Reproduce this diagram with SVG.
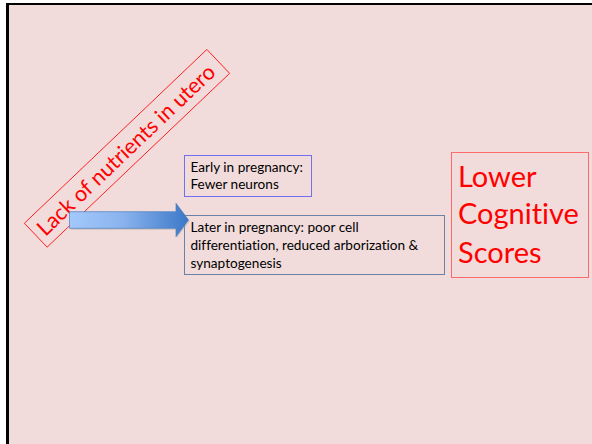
<svg xmlns="http://www.w3.org/2000/svg" width="592" height="444" viewBox="0 0 592 444">
<defs>
<style>
.bg{fill:#F2DCDB}
.box{fill:none;stroke-width:1}
.t{font-family:Lato,"Liberation Sans",sans-serif;fill:#000;font-variant-ligatures:none}
.red{font-family:Lato,"Liberation Sans",sans-serif;fill:#FF0000;font-variant-ligatures:none}
</style>
<linearGradient id="ag" x1="0" y1="0" x2="1" y2="0">
<stop offset="0" stop-color="#A3C8FB"/>
<stop offset="0.45" stop-color="#8AB3EE"/>
<stop offset="1" stop-color="#3B78C8"/>
</linearGradient>
</defs>
<rect x="0" y="0" width="592" height="444" fill="#FFFFFF"/>
<rect class="bg" x="7" y="4" width="585" height="440"/>
<line x1="7.5" y1="3" x2="7.5" y2="444" stroke="#000" stroke-width="3"/>
<line x1="6" y1="4" x2="592" y2="4" stroke="#000" stroke-width="2"/>

<g id="cause" transform="translate(127,148.3) rotate(-43.6)">
<rect x="-126" y="-16.5" width="252" height="33" fill="none" stroke="#FF0000" stroke-width="0.8"/>
<text class="red" x="-2" y="8" font-size="21.5" text-anchor="middle">Lack of nutrients in utero</text>
</g>

<g id="early">
<rect class="box" x="184.5" y="155.5" width="127" height="41" stroke="#7070F0"/>
<text class="t" x="190.5" y="172" font-size="13.6">Early in pregnancy:</text>
<text class="t" x="190.5" y="189" font-size="13.6">Fewer neurons</text>
</g>

<g id="later">
<rect class="box" x="184.5" y="215.5" width="260" height="59" stroke="#6B82A8"/>
<text class="t" x="190.5" y="232" font-size="13.6">Later in pregnancy: poor cell</text>
<text class="t" x="190.5" y="250" font-size="13.6">differentiation, reduced arborization &amp;</text>
<text class="t" x="190.5" y="268" font-size="13.6">synaptogenesis</text>
</g>

<g id="outcome">
<rect class="box" x="451.5" y="152.5" width="137" height="125" stroke="#FF6B6B"/>
<text class="red" x="458" y="187" font-size="29">Lower</text>
<text class="red" x="458" y="224" font-size="29">Cognitive</text>
<text class="red" x="458" y="263" font-size="29">Scores</text>
</g>

<g id="connectors">
<path d="M70.5,213.5 H177 V205 L190,221 L177,238 V230 H70.5 Z" fill="#A0A0A0" opacity="0.35"/>
<path d="M69.5,211.7 H176 V203.3 L188.5,220 L176,236.7 V228.3 H69.5 Z" fill="url(#ag)" stroke="#4A7EBB" stroke-width="0.7"/>
</g>
</svg>
